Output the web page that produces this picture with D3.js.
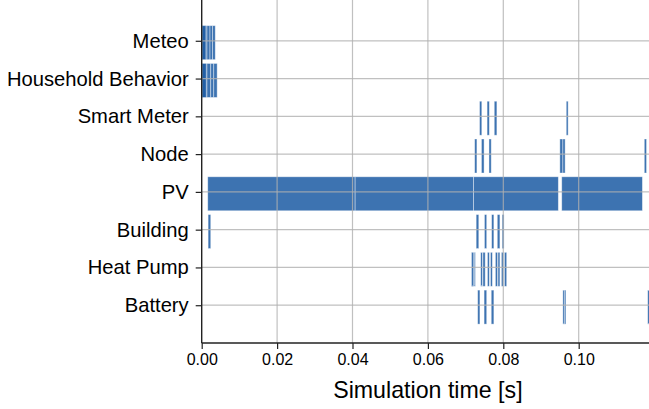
<!DOCTYPE html>
<html>
<head>
<meta charset="utf-8">
<style>
  body { margin: 0; background: #fff; }
  text { font-family: "Liberation Sans", Arial, Helvetica, sans-serif; fill: #000; }
</style>
</head>
<body>
<div id="chart"></div>

<script src="https://cdnjs.cloudflare.com/ajax/libs/d3/7.8.5/d3.min.js"></script>
<script>
  // Chart size
  const width = 649;
  const height = 409;

  // Components shown on the y axis, top to bottom
  const components = ["Meteo", "Household Behavior", "Smart Meter", "Node", "PV", "Building", "Heat Pump", "Battery"];

  // Busy intervals per component, [start, end] in seconds
  const meteo = [[0.0001, 0.0014], [0.0001, 0.0011], [0.0014, 0.0022], [0.0022, 0.0029], [0.0029, 0.0036]];
  const household = [[0.0001, 0.0014], [0.0001, 0.0012], [0.0014, 0.0024], [0.0024, 0.0032], [0.0032, 0.0041]];
  const smartMeter = [[0.0737, 0.0743], [0.0757, 0.0763], [0.0776, 0.0783], [0.0967, 0.0972]];
  const node = [[0.0724, 0.0730], [0.0742, 0.0749], [0.0762, 0.0768], [0.0950, 0.0958], [0.0958, 0.0964], [0.1174, 0.1180]];
  const pv = [[0.0016, 0.0407], [0.0407, 0.0721], [0.0721, 0.0946], [0.0955, 0.1169]];
  const building = [[0.0017, 0.0024], [0.0728, 0.0735], [0.0750, 0.0756], [0.0769, 0.0775], [0.0784, 0.0791], [0.0797, 0.0802]];
  const heatPump = [[0.0716, 0.0722], [0.0716, 0.0720], [0.0723, 0.0726], [0.0740, 0.0745], [0.0746, 0.0752],
    [0.0758, 0.0763], [0.0766, 0.0771], [0.0779, 0.0785], [0.0786, 0.0791], [0.0795, 0.0800], [0.0803, 0.0809]];
  const battery = [[0.0732, 0.0738], [0.0749, 0.0756], [0.0768, 0.0775], [0.0958, 0.0962], [0.0962, 0.0966], [0.1183, 0.1188]];

  const intervals = [meteo, household, smartMeter, node, pv, building, heatPump, battery];

  // X tick values
  const xTicks = [0, 0.02, 0.04, 0.06, 0.08, 0.10];

  const margin = {left: 201.7, right: 654.1, top: 3, bottom: 343};

  const x = d3.scaleLinear().domain([0, 0.12]).range([margin.left, margin.right]);
  const y = d3.scaleLinear().domain([-1, 8]).range([margin.top, margin.bottom]);

  const svg = d3.create("svg")
    .attr("width", width)
    .attr("height", height)
    .attr("viewBox", [0, 0, width, height]);

  // Bars (drawn below the grid, like matplotlib patches)
  const rows = components.map((name, i) => intervals[i].map(([s, e]) => ({i, s, e}))).flat();

  svg.append("g")
    .selectAll("rect")
    .data(rows)
    .join("rect")
    .attr("x", d => x(d.s))
    .attr("width", d => x(d.e) - x(d.s))
    .attr("y", d => y(d.i - 0.4))
    .attr("height", d => y(d.i + 0.5) - y(d.i - 0.4))
    .attr("fill", "#1d5ca4")
    .attr("fill-opacity", 0.86)
    .attr("stroke", "#ffffff")
    .attr("stroke-opacity", 0.5)
    .attr("stroke-width", 0.8);

  // Grid lines
  const grid = svg.append("g")
    .attr("stroke", "#b0b0b0")
    .attr("stroke-opacity", 0.8)
    .attr("stroke-width", 1.2);

  grid.selectAll(".vgrid")
    .data(xTicks.slice(1))
    .join("line")
    .attr("x1", d => x(d)).attr("x2", d => x(d))
    .attr("y1", 0).attr("y2", margin.bottom);

  grid.selectAll(".hgrid")
    .data(components)
    .join("line")
    .attr("x1", margin.left).attr("x2", width)
    .attr("y1", (d, i) => y(i)).attr("y2", (d, i) => y(i));

  // X axis
  const xAxis = svg.append("g")
    .attr("transform", `translate(0,${margin.bottom})`)
    .call(d3.axisBottom(x).tickValues(xTicks).tickFormat(d3.format(".2f")).tickSize(6).tickPadding(5));
  xAxis.select(".domain").remove();
  xAxis.selectAll(".tick line").attr("stroke", "#222").attr("stroke-width", 1.2);
  xAxis.selectAll(".tick text").attr("font-size", 16).attr("font-family", null).attr("fill", "#000");

  // Y axis
  const yAxis = svg.append("g")
    .attr("transform", `translate(${margin.left},0)`)
    .call(d3.axisLeft(y).tickValues(d3.range(components.length)).tickFormat(i => components[i]).tickSize(6).tickPadding(7));
  yAxis.select(".domain").remove();
  yAxis.selectAll(".tick line").attr("stroke", "#222").attr("stroke-width", 1.2);
  yAxis.selectAll(".tick text").attr("font-size", 20.2).attr("font-family", null).attr("fill", "#000");

  // Spines: left and bottom
  svg.append("line")
    .attr("x1", margin.left).attr("x2", margin.left)
    .attr("y1", 0).attr("y2", margin.bottom)
    .attr("stroke", "#222").attr("stroke-width", 1.4);
  svg.append("line")
    .attr("x1", margin.left).attr("x2", width)
    .attr("y1", margin.bottom).attr("y2", margin.bottom)
    .attr("stroke", "#222").attr("stroke-width", 1.4);

  // X axis title
  svg.append("text")
    .attr("x", (margin.left + margin.right) / 2)
    .attr("y", 398)
    .attr("text-anchor", "middle")
    .attr("font-size", 23.2)
    .text("Simulation time [s]");

  d3.select("#chart").node().appendChild(svg.node());
</script>
</body>
</html>
